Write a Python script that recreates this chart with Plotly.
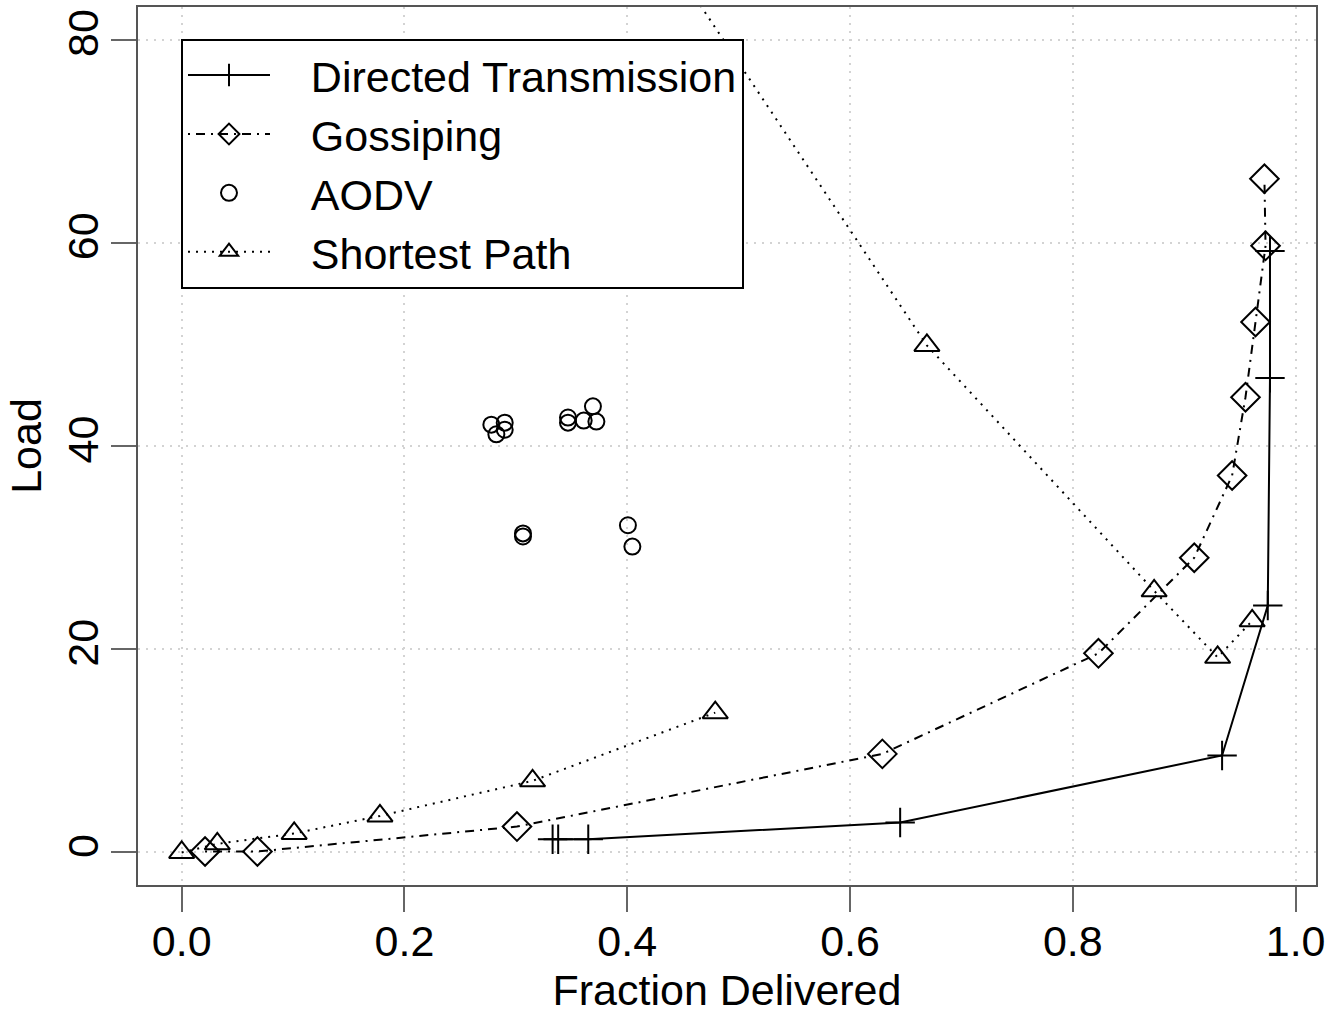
import plotly.graph_objects as go

# ---- data ----
dt_x = [0.333, 0.338, 0.365, 0.645, 0.934, 0.975, 0.977, 0.977]
dt_y = [1.3, 1.3, 1.3, 2.95, 9.55, 24.3, 46.7, 59.2]

gs_x = [0.021, 0.068, 0.301, 0.629, 0.823, 0.909, 0.943, 0.955, 0.964, 0.973, 0.972]
gs_y = [0.1, 0.1, 2.55, 9.7, 19.6, 29.0, 37.1, 44.8, 52.2, 59.7, 66.3]

aodv_x = [0.278, 0.290, 0.2825, 0.290, 0.3468, 0.3468, 0.3609, 0.3692, 0.3723,
          0.3064, 0.3064, 0.4006, 0.4046]
aodv_y = [42.1, 42.3, 41.15, 41.6, 42.8, 42.3, 42.5, 43.9, 42.4,
          31.4, 31.1, 32.2, 30.1]

sp_x = [0.0, 0.032, 0.101, 0.178, 0.315, 0.479, None, 0.398, 0.669, 0.873, 0.930, 0.961]
sp_y = [0.0, 0.85, 1.87, 3.6, 7.05, 13.76, None, 94.5, 49.9, 25.75, 19.2, 22.8]

x_ticks = [0.0, 0.2, 0.4, 0.6, 0.8, 1.0]
x_labels = ["0.0", "0.2", "0.4", "0.6", "0.8", "1.0"]
y_ticks = [0, 20, 40, 60, 80]
y_labels = ["0", "20", "40", "60", "80"]

series_names = ["Directed Transmission", "Gossiping", "AODV", "Shortest Path"]

FONT = "Liberation Sans, Arial, Helvetica, sans-serif"
FS = 43
PAD = "\u00a0\u00a0\u00a0"

fig = go.Figure()

fig.add_trace(go.Scatter(
    x=dt_x, y=dt_y, mode="lines+markers", name=PAD + series_names[0],
    line=dict(color="black", width=2),
    marker=dict(symbol="cross-thin-open", size=21, color="black",
                line=dict(color="black", width=2)),
))
fig.add_trace(go.Scatter(
    x=gs_x, y=gs_y, mode="lines+markers", name=PAD + series_names[1],
    line=dict(color="black", width=2, dash="2px,6px,9px,6px"),
    marker=dict(symbol="diamond-open", size=22, color="black",
                line=dict(color="black", width=2)),
))
fig.add_trace(go.Scatter(
    x=aodv_x, y=aodv_y, mode="markers", name=PAD + series_names[2],
    marker=dict(symbol="circle-open", size=16, color="black",
                line=dict(color="black", width=2)),
))
fig.add_trace(go.Scatter(
    x=sp_x, y=sp_y, mode="lines+markers", name=PAD + series_names[3],
    connectgaps=False,
    line=dict(color="black", width=2, dash="2px,6px"),
    marker=dict(symbol="triangle-up-open", size=22, color="black",
                line=dict(color="black", width=2)),
))

axis_common = dict(
    showline=True, mirror=True, linecolor="#555555", linewidth=2,
    ticks="outside", ticklen=25, tickwidth=2, tickcolor="#666666",
    showgrid=True, gridcolor="#d3d3d3", gridwidth=2, griddash="2px,6px",
    zeroline=False, automargin=False,
    tickfont=dict(family=FONT, size=FS, color="black"),
)

fig.update_layout(
    width=1328, height=1014,
    margin=dict(l=138, r=12, t=7, b=129),
    paper_bgcolor="white", plot_bgcolor="white",
    font=dict(family=FONT, size=FS, color="black"),
    showlegend=True,
    legend=dict(
        x=0.0365, y=0.964, xanchor="left", yanchor="top",
        bgcolor="white", bordercolor="black", borderwidth=2,
        font=dict(family=FONT, size=FS, color="black"),
        itemwidth=82, tracegroupgap=0,
    ),
    xaxis=dict(
        range=[-0.0392, 1.0183], tickvals=x_ticks, ticktext=x_labels,
        ticklabelstandoff=-8,
        title=dict(text="Fraction Delivered", standoff=14,
                   font=dict(family=FONT, size=FS, color="black")),
        **axis_common,
    ),
    yaxis=dict(
        range=[-3.2, 83.2], tickvals=y_ticks, ticktext=y_labels, tickangle=-90,
        ticklabelstandoff=-4,
        title=dict(text="Load", standoff=4,
                   font=dict(family=FONT, size=FS, color="black")),
        **axis_common,
    ),
)

fig.write_html("out.html")
